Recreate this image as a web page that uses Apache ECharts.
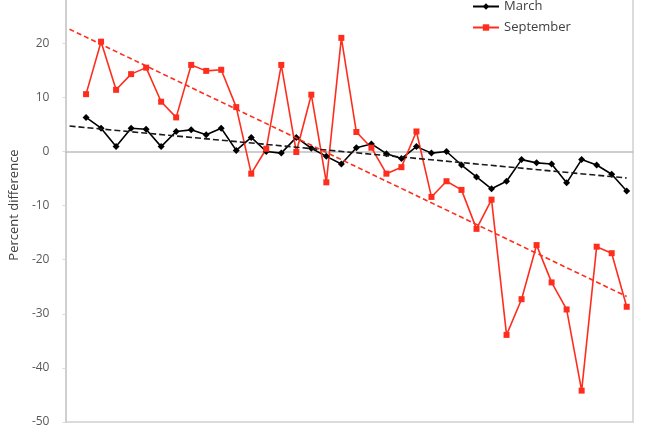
<!DOCTYPE html>
<html>
<head>
<meta charset="utf-8">
<script src="https://cdn.jsdelivr.net/npm/echarts@6/dist/echarts.min.js"></script>
<style>html,body{margin:0;padding:0;background:#fff;}#c{width:650px;height:433px;}</style>
</head>
<body>
<div id="c"></div>
<script>
var years = [1979,1980,1981,1982,1983,1984,1985,1986,1987,1988,1989,1990,1991,1992,1993,1994,1995,1996,1997,1998,1999,2000,2001,2002,2003,2004,2005,2006,2007,2008,2009,2010,2011,2012,2013,2014,2015];
var march = [6.3,4.3,0.9,4.3,4.1,0.9,3.7,4.0,3.1,4.3,0.2,2.6,0.0,-0.3,2.6,0.6,-0.9,-2.3,0.7,1.4,-0.4,-1.3,0.9,-0.3,0.0,-2.5,-4.7,-6.9,-5.5,-1.5,-2.1,-2.3,-5.8,-1.5,-2.5,-4.2,-7.3];
var september = [10.6,20.3,11.4,14.3,15.5,9.2,6.3,16.0,14.9,15.1,8.2,-4.1,0.5,16.0,-0.1,10.5,-5.7,21.0,3.6,0.7,-4.1,-2.9,3.7,-8.4,-5.5,-7.1,-14.3,-8.9,-33.9,-27.3,-17.3,-24.2,-29.2,-44.2,-17.6,-18.8,-28.7];
var marchTrendX = [1977.9, 2015];
var marchTrendY = [4.7, -4.9];
var septTrendX = [1977.9, 2015];
var septTrendY = [22.6, -26.8];
var yMin = -50, yMax = 28;

function pairs(xs, ys){ return xs.map(function(x,i){return [x, ys[i]];}); }

var chart = echarts.init(document.getElementById('c'));
chart.setOption({
  animation: false,
  backgroundColor: '#fff',
  grid: {left: 61, right: 17, top: 0, bottom: 11},
  legend: {
    data: ['March','September'], orient: 'vertical', left: 472, top: 0, padding: 0,
    itemWidth: 26, itemHeight: 8, itemGap: 8,
    textStyle: {fontFamily: 'Open Sans', fontSize: 13, color: '#404040'}
  },
  xAxis: [{
    type: 'value', min: 1977.63, max: 2015.42,
    axisLine: {show: true, onZero: true, lineStyle: {color: '#bfbfbf', width: 1.5}},
    axisTick: {show: false}, axisLabel: {show: false}, splitLine: {show: false}
  }, {
    type: 'value', min: 1977.63, max: 2015.42, position: 'bottom',
    axisLine: {show: true, onZero: false, lineStyle: {color: '#d0d0d0', width: 1.5}},
    axisTick: {show: false}, axisLabel: {show: false}, splitLine: {show: false}
  }],
  yAxis: [{
    type: 'value', min: yMin, max: yMax, interval: 10,
    name: 'Percent difference', nameLocation: 'middle', nameGap: 41,
    nameTextStyle: {fontFamily: 'Open Sans', fontSize: 13, color: '#404040', padding: [0, 0, 0, 12]},
    axisLine: {show: true, lineStyle: {color: '#bfbfbf', width: 1.5}},
    axisTick: {show: true, length: 3, lineStyle: {color: '#d9d9d9'}},
    axisLabel: {margin: 16, fontFamily: 'Open Sans', fontSize: 12, color: '#595959', showMaxLabel: false},
    splitLine: {show: false}
  }, {
    type: 'value', min: yMin, max: yMax, position: 'right',
    axisLine: {show: true, onZero: false, lineStyle: {color: '#d0d0d0', width: 1.5}},
    axisTick: {show: false}, axisLabel: {show: false}, splitLine: {show: false}
  }],
  series: [
    {name: 'March', type: 'line', data: pairs(years, march), symbol: 'diamond', symbolSize: 7,
     itemStyle: {color: '#000'}, lineStyle: {color: '#000', width: 1.6}, z: 3},
    {name: 'September', type: 'line', data: pairs(years, september), symbol: 'rect', symbolSize: 6,
     itemStyle: {color: '#ff2d1d'}, lineStyle: {color: '#ff2d1d', width: 1.6}, z: 3},
    {name: 'March trend', type: 'line', data: pairs(marchTrendX, marchTrendY), symbol: 'none',
     lineStyle: {color: '#1a1a1a', width: 1.6, type: [6,3]}, z: 4},
    {name: 'September trend', type: 'line', data: pairs(septTrendX, septTrendY), symbol: 'none',
     lineStyle: {color: '#ff2d1d', width: 1.6, type: [5,3]}, z: 4}
  ]
});
</script>
</body>
</html>
